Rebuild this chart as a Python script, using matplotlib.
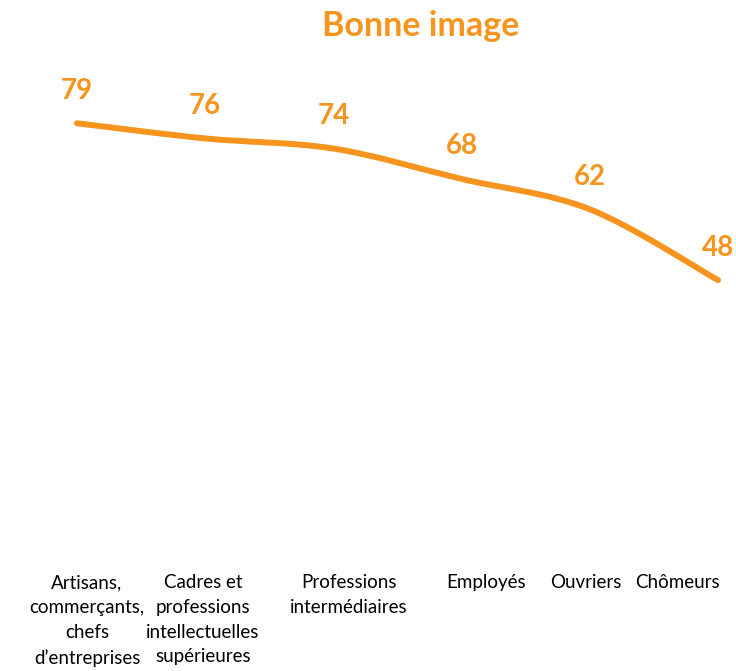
import numpy as np
import matplotlib
matplotlib.use("Agg")
import matplotlib.pyplot as plt
from matplotlib.path import Path
from matplotlib.patches import PathPatch

categories = ["Artisans,\ncommerçants,\nchefs\nd\u2019entreprises",
              "Cadres et\nprofessions\nintellectuelles\nsupérieures",
              "Professions\nintermédiaires",
              "Employés", "Ouvriers", "Chômeurs"]
values = [79, 76, 74, 68, 62, 48]
label_pos = [0.078, 0.983, 2.12, 3.19, 3.97, 4.68]
title = "Bonne image"

ORANGE = "#F7941D"
plt.rcParams['font.family'] = ['Lato', 'DejaVu Sans']

fig = plt.figure(figsize=(7.36, 6.71), dpi=100)
ax = fig.add_axes([0, (671 - 523) / 671, 1, (523 - 17) / 671])
ax.set_xlim(-77 / 128.2, (736 - 77) / 128.2)
ax.set_ylim(0, 100)

x = np.arange(len(values), dtype=float)
y = np.array(values, dtype=float)

# Excel-like smoothed line (Catmull-Rom -> Bezier)
verts = [(x[0], y[0])]
codes = [Path.MOVETO]
n = len(x)
for i in range(n - 1):
    p0 = np.array([x[max(i - 1, 0)], y[max(i - 1, 0)]])
    p1 = np.array([x[i], y[i]])
    p2 = np.array([x[i + 1], y[i + 1]])
    p3 = np.array([x[min(i + 2, n - 1)], y[min(i + 2, n - 1)]])
    c1 = p1 + (p2 - p0) / 6
    c2 = p2 - (p3 - p1) / 6
    verts += [tuple(c1), tuple(c2), tuple(p2)]
    codes += [Path.CURVE4] * 3
ax.add_patch(PathPatch(Path(verts, codes), fill=False, edgecolor=ORANGE,
                       lw=4.3, capstyle='round', joinstyle='round'))

for xi, v in zip(x, values):
    ax.annotate(str(v), (xi, v), xytext=(0, 14), textcoords='offset points',
                ha='center', va='bottom', color=ORANGE, fontsize=20,
                fontweight='bold')

ax.set_xticks(label_pos)
ax.set_xticklabels(categories, fontsize=13.5, linespacing=1.55)
ax.tick_params(axis='x', length=0, pad=37)
ax.set_yticks([])
for s in ax.spines.values():
    s.set_visible(False)

fig.text(421 / 736, 1 - 26 / 671, title, ha='center', va='center',
         color=ORANGE, fontsize=24.5, fontweight='bold')

fig.savefig("out.png", dpi=100)
